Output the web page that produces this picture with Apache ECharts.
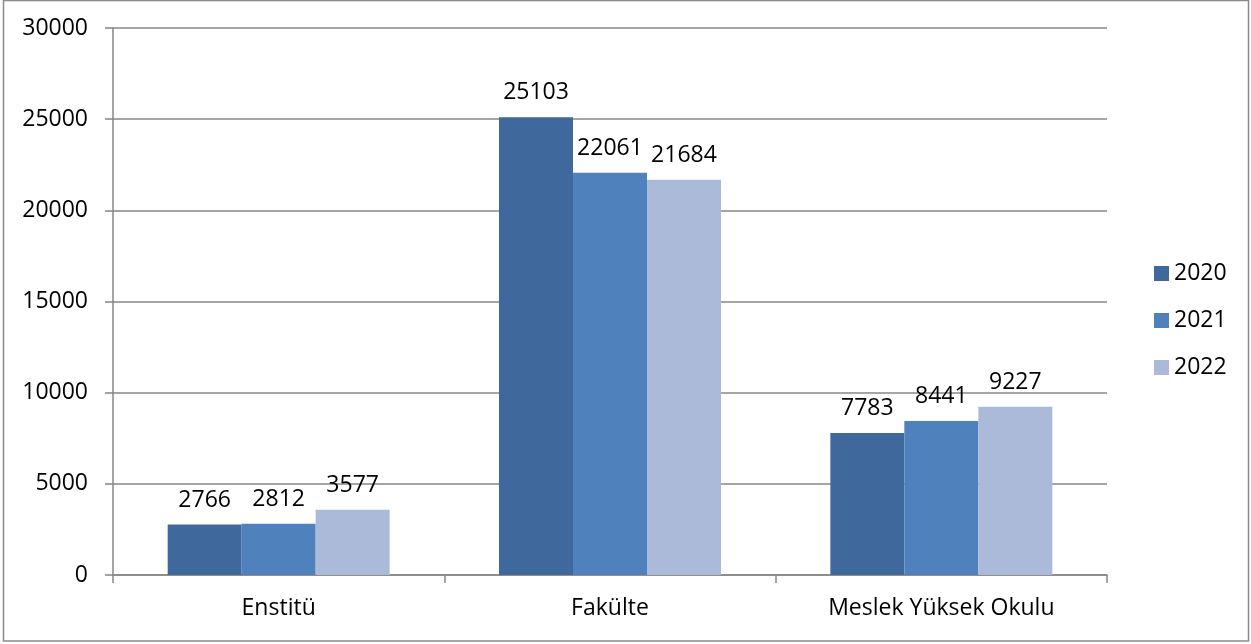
<!DOCTYPE html>
<html><head><meta charset="utf-8">
<script src="https://cdn.jsdelivr.net/npm/echarts@6/dist/echarts.min.js"></script>
<style>html,body{margin:0;padding:0;background:#fff}#c{width:1251px;height:644px}</style>
</head><body><div id="c"></div>
<script>
const categories = ['Enstitü', 'Fakülte', 'Meslek Yüksek Okulu'];
const seriesNames = ['2020', '2021', '2022'];
const values2020 = [2766, 25103, 7783];
const values2021 = [2812, 22061, 8441];
const values2022 = [3577, 21684, 9227];
const colors = ['#3F699C', '#4F81BD', '#AABAD8'];
const font = '"Open Sans", "Liberation Sans", sans-serif';
const fs = 23;

const allValues = [values2020, values2021, values2022];
const chart = echarts.init(document.getElementById('c'));
chart.setOption({
  animation: false,
  textStyle: { fontFamily: font },
  graphic: [{
    type: 'rect', shape: { x: 3.5, y: 0.5, width: 1245, height: 640.5 },
    style: { fill: 'none', stroke: '#8a8a8a', lineWidth: 1.5 }, silent: true
  }],
  grid: { left: 113, right: 144, top: 28, bottom: 69 },
  legend: {
    orient: 'vertical', left: 1149, top: 257, itemGap: 24,
    itemWidth: 15, itemHeight: 15, icon: 'rect',
    textStyle: { fontSize: fs, color: '#000', fontFamily: font },
    data: seriesNames
  },
  xAxis: {
    type: 'category', data: categories,
    axisLine: { lineStyle: { color: '#878787', width: 1.5 } },
    axisTick: { show: true, length: 8, lineStyle: { color: '#878787', width: 1.5 } },
    axisLabel: { fontSize: fs, color: '#000', margin: 22, fontFamily: font }
  },
  yAxis: {
    type: 'value', min: 0, max: 30000, interval: 5000,
    axisLine: { show: true, lineStyle: { color: '#878787', width: 1.5 } },
    axisTick: { show: true, length: 8, lineStyle: { color: '#878787', width: 1.5 } },
    splitLine: { lineStyle: { color: '#878787', width: 1.5 } },
    axisLabel: { fontSize: fs, color: '#000', margin: 25, fontFamily: font, formatter: v => String(v) }
  },
  series: seriesNames.map((n, i) => ({
    name: n, type: 'bar', data: allValues[i],
    itemStyle: { color: colors[i] },
    barGap: '0%', barCategoryGap: '33%',
    label: { show: true, position: 'top', distance: 13, fontSize: fs, color: '#000', fontFamily: font }
  }))
});
</script></body></html>
